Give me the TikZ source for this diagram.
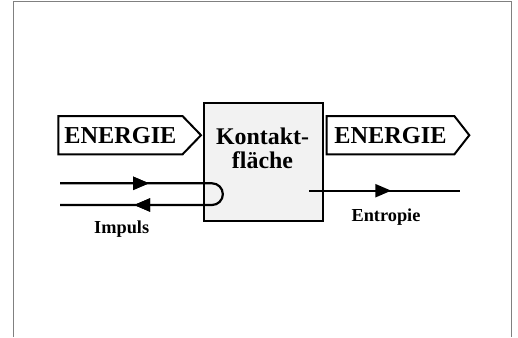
\documentclass[tikz,border=0pt]{standalone}
\usepackage{fontspec}
\setmainfont{Liberation Serif}
\usetikzlibrary{shapes.symbols,arrows.meta,decorations.markings,calc}
\begin{document}
\begin{tikzpicture}[x=1pt,y=-1pt,
  frameline/.style={draw=black!50,line width=1.3pt},
  flowsign/.style={signal,signal to=east,draw,line width=2pt,fill=white,
    minimum height=38.3pt,inner sep=0pt,anchor=west,
    font=\fontsize{24.3}{26}\selectfont\bfseries},
  contactbox/.style={draw,line width=2.2pt,fill=black!5,
    minimum width=118.4pt,minimum height=118pt,inner sep=0pt},
  bigtext/.style={align=center,font=\fontsize{23.9}{24.7}\selectfont\bfseries},
  smalltext/.style={font=\fontsize{18.3}{20}\selectfont\bfseries},
  flowline/.style={line width=2.2pt},
  midtip/.style={postaction={decorate},decoration={markings,
    mark=at position #1 with {\arrow{Triangle[length=16pt,width=13pt]}}}}
]
\useasboundingbox (0,0) rectangle (518,337);

% open frame around the drawing
\draw[frameline] (13.3,337) -- (13.3,1.5) -- (511.7,1.5) -- (511.7,337);

% contact surface
\node[contactbox] (kontakt) at (263.5,161.7) {};
\node[bigtext] (kontakttext) at ($(kontakt.north)+(-1,46.6)$) {Kontakt-\\fläche};

% energy flowing in and out
\node[flowsign,minimum width=142.7pt,signal pointer angle=92] (ein) at (57.3,135.2) {ENERGIE};
\node[flowsign,minimum width=142.6pt,signal pointer angle=104] (aus) at (325.7,135.2) {ENERGIE};

% momentum loop, turned back at the contact surface
\coordinate (imp-in) at (60,183.3);
\coordinate (imp-turn) at (212,183.3);
\coordinate (imp-out) at (60,205);
\draw[flowline,midtip=89pt,midtip=264pt]
  (imp-in) -- (imp-turn) arc[start angle=-90,end angle=90,radius=10.85]
  -- (imp-out);
\node[smalltext] (impuls) at (121.7,228.8) {Impuls};

% entropy produced at the contact surface
\coordinate (ent-start) at (309.3,190.7);
\coordinate (ent-end) at (460,190.7);
\draw[flowline,midtip=82pt] (ent-start) -- (ent-end);
\node[smalltext] (entropie) at (386,217.3) {Entropie};
\end{tikzpicture}
\end{document}
